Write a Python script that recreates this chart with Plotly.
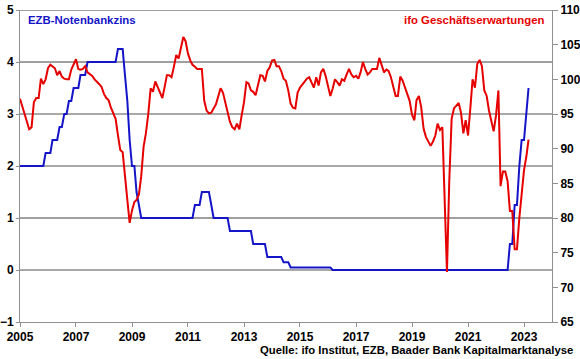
import pandas as pd
import plotly.graph_objects as go

# ---- data (monthly, Jan 2005 - Mar 2023) ----
ecb_rate = (
    [2.00]*11 + [2.25] +                                                          # 2005
    [2.25, 2.25, 2.50, 2.50, 2.50, 2.75, 2.75, 3.00, 3.00, 3.25, 3.25, 3.50] +      # 2006
    [3.50, 3.50, 3.75, 3.75, 3.75, 4.00, 4.00, 4.00, 4.00, 4.00, 4.00, 4.00] +      # 2007
    [4.00, 4.00, 4.00, 4.00, 4.00, 4.00, 4.25, 4.25, 4.25, 3.75, 3.25, 2.50] +      # 2008
    [2.00, 2.00, 1.50, 1.25, 1.00, 1.00, 1.00, 1.00, 1.00, 1.00, 1.00, 1.00] +      # 2009
    [1.00]*12 +                                                                   # 2010
    [1.00, 1.00, 1.00, 1.25, 1.25, 1.25, 1.50, 1.50, 1.50, 1.50, 1.25, 1.00] +      # 2011
    [1.00, 1.00, 1.00, 1.00, 1.00, 1.00, 0.75, 0.75, 0.75, 0.75, 0.75, 0.75] +      # 2012
    [0.75, 0.75, 0.75, 0.75, 0.50, 0.50, 0.50, 0.50, 0.50, 0.50, 0.25, 0.25] +      # 2013
    [0.25, 0.25, 0.25, 0.25, 0.25, 0.15, 0.15, 0.15, 0.05, 0.05, 0.05, 0.05] +      # 2014
    [0.05]*12 +                                                                   # 2015
    [0.05, 0.05] + [0.00]*10 +                                                    # 2016
    [0.00]*12 + [0.00]*12 + [0.00]*12 + [0.00]*12 + [0.00]*12 +                   # 2017-2021
    [0.00, 0.00, 0.00, 0.00, 0.00, 0.00, 0.50, 0.50, 1.25, 1.25, 2.00, 2.50] +      # 2022
    [2.50, 3.00, 3.50]                                                            # 2023
)

ifo_expect = (
    [97.2, 96.1, 95.2, 94.0, 92.8, 93.1, 96.7, 97.3, 97.3, 100.1, 99.3, 100.0] +       # 2005
    [101.6, 102.1, 101.9, 101.6, 100.6, 101.2, 100.4, 100.1, 100.0, 100.0, 101.4, 102.2] +  # 2006
    [102.9, 101.5, 101.4, 101.5, 101.9, 101.0, 100.8, 100.5, 100.0, 99.7, 99.3, 98.9] +   # 2007
    [97.9, 97.3, 97.0, 95.9, 95.2, 94.3, 92.0, 89.8, 89.5, 85.6, 82.6, 79.3] +         # 2008
    [81.1, 82.3, 82.6, 83.4, 86.0, 90.3, 92.2, 95.0, 98.7, 98.2, 99.7, 98.9] +         # 2009
    [98.0, 97.3, 98.8, 100.6, 100.6, 100.3, 101.8, 103.5, 103.0, 104.5, 106.1, 105.5] +  # 2010
    [103.7, 102.7, 102.1, 101.8, 101.5, 101.5, 101.5, 96.9, 95.5, 95.1, 95.2, 95.8] +  # 2011
    [96.4, 97.6, 98.7, 98.1, 96.7, 95.0, 93.9, 93.1, 92.8, 93.6, 92.8, 94.8] +         # 2012
    [96.7, 99.6, 99.4, 98.4, 98.2, 97.7, 99.1, 100.6, 100.5, 99.7, 101.2, 101.7] +     # 2013
    [102.7, 102.8, 101.9, 101.9, 101.2, 100.1, 99.8, 98.4, 96.5, 95.9, 95.8, 98.1] +   # 2014
    [98.8, 99.2, 99.6, 100.1, 100.3, 99.5, 98.8, 100.3, 99.1, 101.0, 101.5, 100.5] +   # 2015
    [98.8, 97.6, 98.6, 100.0, 99.6, 99.1, 100.0, 99.8, 100.7, 101.5, 100.7, 100.3] +   # 2016
    [100.5, 100.1, 101.0, 102.5, 101.5, 100.7, 101.0, 101.5, 101.5, 101.5, 103.1, 102.2] +  # 2017
    [101.0, 101.4, 101.2, 100.3, 98.8, 97.6, 97.6, 100.4, 99.8, 98.9, 98.0, 96.9] +    # 2018
    [94.9, 94.1, 97.0, 97.6, 96.0, 92.9, 91.7, 91.0, 90.4, 91.0, 91.9, 93.6] +         # 2019
    [92.7, 93.1, 82.9, 72.2, 85.3, 94.3, 95.8, 96.2, 96.6, 95.2, 92.2, 94.1] +         # 2020
    [91.9, 96.0, 100.0, 98.8, 102.2, 102.8, 101.9, 98.4, 97.6, 95.5, 93.8, 92.5] +     # 2021
    [94.8, 98.4, 84.6, 86.7, 86.7, 85.3, 81.0, 81.0, 75.5, 75.5, 80.0, 83.7] +         # 2022
    [86.9, 88.9, 91.3]                                                               # 2023
)

months = pd.date_range("2005-01-01", periods=len(ifo_expect), freq="MS")

tick_years = ["2005", "2007", "2009", "2011", "2013", "2015", "2017", "2019", "2021", "2023"]
left_ticks = [-1, 0, 1, 2, 3, 4, 5]
right_ticks = [65, 70, 75, 80, 85, 90, 95, 100, 105, 110]
grid_dark = [5, 4, 1]
grid_light = [3, 2, 0]

BLUE = "#1414c8"
RED = "#e60000"
FONT = "Liberation Sans, Arial, sans-serif"

fig = go.Figure()
fig.add_trace(go.Scatter(x=months, y=ecb_rate, mode="lines", name="EZB-Notenbankzins",
                         line=dict(color=BLUE, width=2), yaxis="y"))
fig.add_trace(go.Scatter(x=months, y=ifo_expect, mode="lines", name="ifo Geschäftserwartungen",
                         line=dict(color=RED, width=2), yaxis="y2"))

shapes = []
for g in grid_dark:
    shapes.append(dict(type="line", xref="paper", x0=0, x1=1, yref="y", y0=g, y1=g,
                       line=dict(color="#404040", width=1), layer="below"))
for g in grid_light:
    shapes.append(dict(type="line", xref="paper", x0=0, x1=1, yref="y", y0=g, y1=g,
                       line=dict(color="#a8a8a8", width=2), layer="below"))

tickfont = dict(family=FONT, size=12, color="black", weight="bold")

fig.update_layout(
    width=580, height=359,
    margin=dict(l=20, r=28, t=10, b=37, autoexpand=False),
    paper_bgcolor="white", plot_bgcolor="white",
    showlegend=False,
    hovermode=False,
    shapes=shapes,
    xaxis=dict(type="date", range=["2005-01-01", "2024-01-01"], automargin=False,
               tickvals=[f"{y}-01-01" for y in tick_years], ticktext=tick_years,
               showgrid=False, showline=True, linecolor="#909090", linewidth=1,
               ticks="outside", ticklen=4, tickcolor="#909090", tickfont=tickfont,
               zeroline=False),
    yaxis=dict(range=[-1, 5], tickvals=left_ticks, showgrid=False, zeroline=False,
               automargin=False, showline=True, linecolor="#909090", linewidth=1,
               ticks="outside", ticklen=3, tickcolor="#909090", tickfont=tickfont),
    yaxis2=dict(range=[65, 110], tickvals=right_ticks, overlaying="y", side="right",
                automargin=False, showgrid=False, zeroline=False, showline=True,
                linecolor="#909090", linewidth=1, ticks="outside", ticklen=5,
                tickcolor="#909090", tickfont=tickfont),
    annotations=[
        dict(text="<b>EZB-Notenbankzins</b>", xref="paper", yref="paper", x=0.011, y=0.968,
             xanchor="left", yanchor="middle", showarrow=False,
             font=dict(family=FONT, size=11.4, color=BLUE)),
        dict(text="<b>ifo Geschäftserwartungen</b>", xref="paper", yref="paper", x=0.9906, y=0.968,
             xanchor="right", yanchor="middle", showarrow=False,
             font=dict(family=FONT, size=11.4, color=RED)),
        dict(text="<b>Quelle: ifo Institut, EZB, Baader Bank Kapitalmarktanalyse</b>",
             xref="paper", yref="paper", x=1.043, y=-0.09,
             xanchor="right", yanchor="middle", showarrow=False,
             font=dict(family=FONT, size=11.3, color="black")),
    ],
)

fig.write_html("out.html", config={"displayModeBar": False},
               post_script="document.body.style.margin='0px';")
